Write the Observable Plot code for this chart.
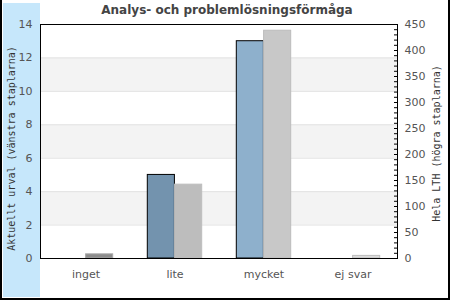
<!DOCTYPE html>
<html>
<head>
<meta charset="utf-8">
<script src="https://cdn.jsdelivr.net/npm/d3@7"></script>
<script src="https://cdn.jsdelivr.net/npm/@observablehq/plot@0.6"></script>
<style>
  html, body { margin: 0; padding: 0; background: #fff; }
  #wrap { position: relative; width: 450px; height: 300px; overflow: hidden; }
  #strip { position: absolute; left: 3px; top: 3px; width: 37px; height: 294px; background: #c6e7fb; }
  #chart { position: absolute; left: 0; top: 0; }
  #border { position: absolute; left: 0; top: 0; width: 450px; height: 300px; box-sizing: border-box;
            border-left: 2px solid #000; border-right: 2px solid #000; border-bottom: 2px solid #000; pointer-events: none; }
  #title { position: absolute; left: 0; top: 3px; width: 450px; text-align: center;
           font: bold 12px "DejaVu Sans", sans-serif; color: #444; line-height: 14px; padding-left: 2px; }
</style>
</head>
<body>
<div id="wrap">
  <div id="strip"></div>
  <div id="chart"></div>
  <div id="title">Analys- och problemlösningsförmåga</div>
  <div id="border"></div>
</div>
<script>
// ---- data ----
const categories = ["inget", "lite", "mycket", "ej svar"];
const urval = [0, 5, 13, 0];          // Aktuellt urval (left bars, left axis)
const helaLTH = [8, 142, 438, 5];     // Hela LTH (right bars, right axis)
const leftTicks = [0, 2, 4, 6, 8, 10, 12, 14];
const rightTicks = [0, 50, 100, 150, 200, 250, 300, 350, 400, 450];
const leftLabel = "Aktuellt urval (vänstra staplarna)";
const rightLabel = "Hela LTH (högra staplarna)";

// ---- styles ----
const leftFill = {"inget": "#7393ae", "lite": "#7393ae", "mycket": "#8eb0cc", "ej svar": "#8eb0cc"};
const rightFill = {"inget": "#8c8c8c", "lite": "#bdbdbd", "mycket": "#c8c8c8", "ej svar": "#dcdcdc"};
const rightStroke = {"inget": "#a8a8a8", "lite": "#bdbdbd", "mycket": "#bcbcbc", "ej svar": "#bdbdbd"};

const K = 14 / 450; // right-axis units -> left-axis units
const leftRows = categories.map((c, i) => ({cat: c, v: urval[i], fill: leftFill[c]}));
const rightRows = categories.map((c, i) => ({cat: c, y: helaLTH[i] * K, fill: rightFill[c], stroke: rightStroke[c]}));
const bands = [[2, 4], [6, 8], [10, 12]];
const rightMinor = d3.range(0, 451, 10);

const chart = Plot.plot({
  width: 450,
  height: 300,
  marginLeft: 40,
  marginRight: 53,
  marginTop: 24,
  marginBottom: 42,
  style: {background: "transparent", fontFamily: "DejaVu Sans, sans-serif", fontSize: "11px", color: "#555"},
  x: {domain: categories, padding: 0, label: null},
  y: {domain: [0, 14], label: null},
  color: {type: "identity"},
  marks: [
    Plot.rect(bands, {y1: d => d[0], y2: d => d[1], fill: "#f3f3f3"}),
    Plot.ruleY(leftTicks.filter(t => t > 0 && t < 14), {stroke: "#e2e2e2"}),
    Plot.barY(leftRows, {x: "cat", y: "v", fill: "fill", stroke: "#000", insetLeft: 17.3, insetRight: 44.6}),
    Plot.barY(rightRows, {x: "cat", y: "y", fill: "fill", stroke: "stroke", insetLeft: 44.6, insetRight: 17.3}),
    Plot.frame({stroke: "#000"}),
    Plot.axisX({tickSize: 0, tickPadding: 12, label: null}),
    Plot.axisY({ticks: leftTicks, tickSize: 0, tickPadding: 8, label: null}),
    Plot.axisY({anchor: "right", ticks: rightMinor.map(v => v * K), tickSize: -4, tickFormat: () => "", label: null, stroke: "#000"}),
    Plot.axisY({anchor: "right", ticks: rightTicks.map(v => v * K), tickSize: 0, tickPadding: 7, tickFormat: d => Math.round(d / K), label: null}),
    Plot.text([leftLabel], {text: d => d, frameAnchor: "left", textAnchor: "middle", rotate: -90, dx: -29, dy: 7, fontFamily: "DejaVu Sans Mono", fontSize: 10, fill: "#333"}),
    Plot.text([rightLabel], {text: d => d, frameAnchor: "right", textAnchor: "middle", rotate: -90, dx: 39, dy: 2, fontFamily: "DejaVu Sans Mono", fontSize: 10, fill: "#333"})
  ]
});
document.getElementById("chart").appendChild(chart);
</script>
</body>
</html>
